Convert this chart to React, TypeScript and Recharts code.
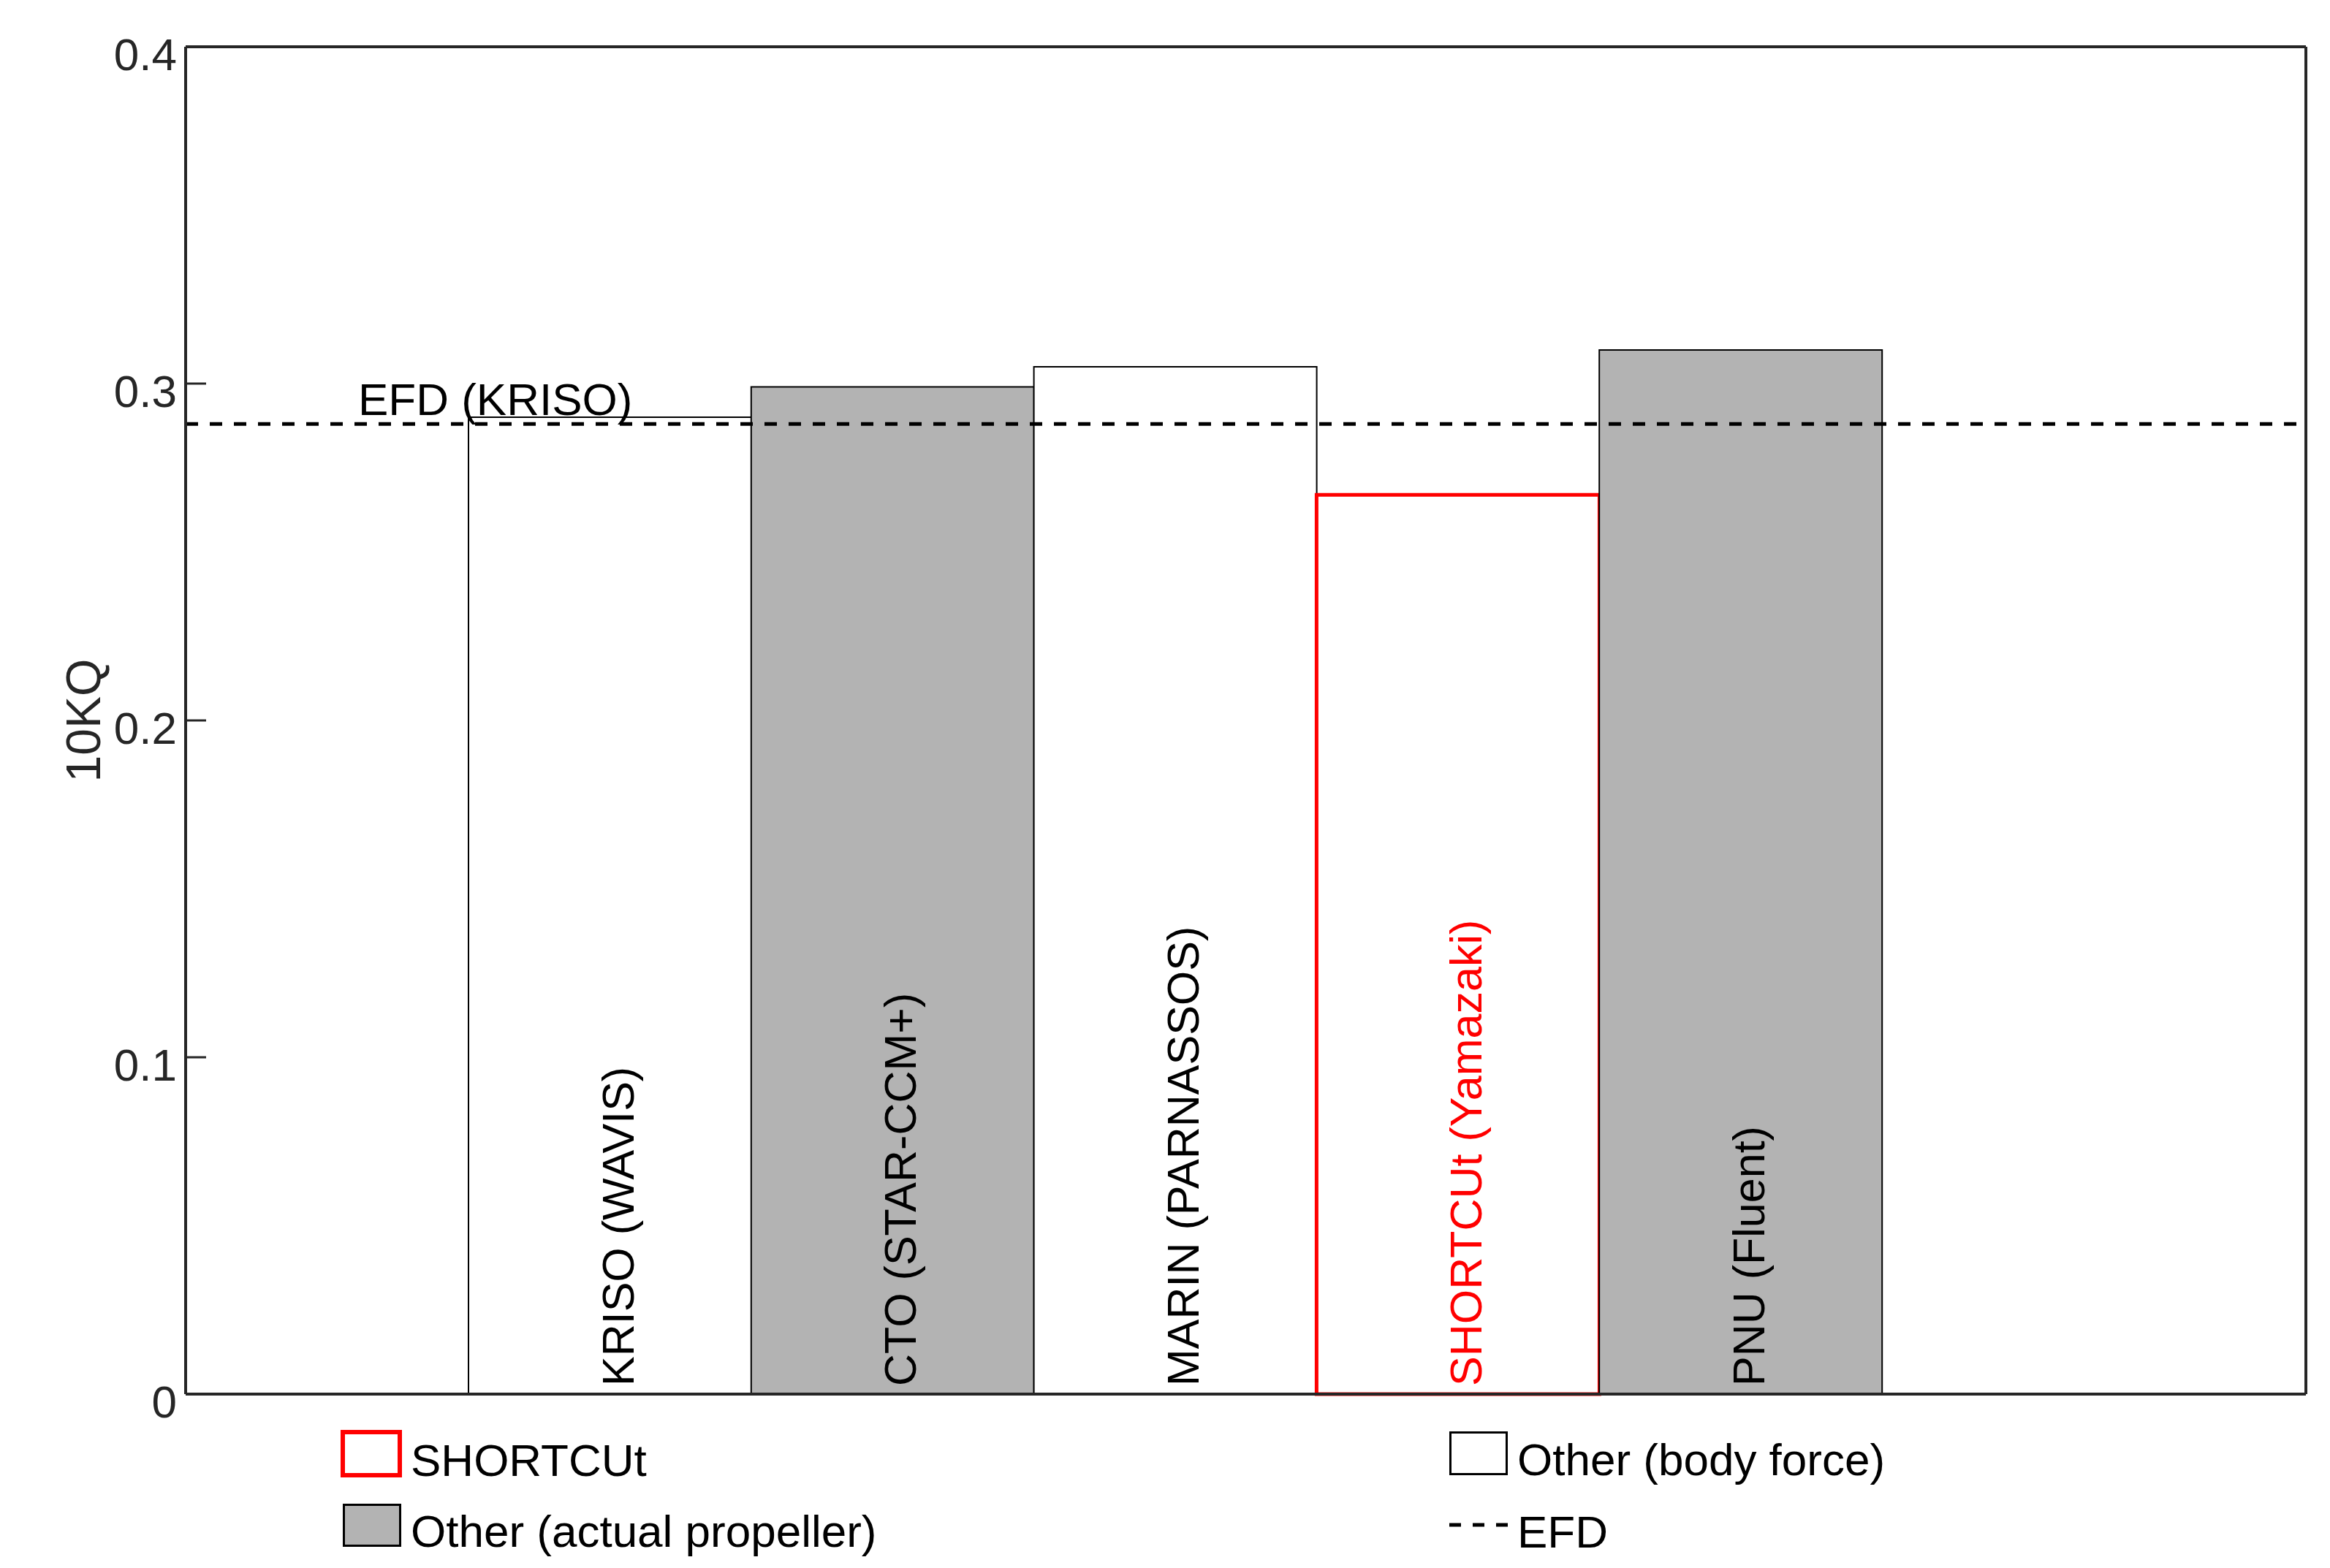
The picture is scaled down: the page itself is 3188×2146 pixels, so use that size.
import React from 'react';
import { Bar, Cell, ComposedChart, Label, LabelList, ReferenceLine, XAxis, YAxis } from 'recharts';

const methods = [
  'KRISO (WAVIS)',
  'CTO (STAR-CCM+)',
  'MARIN (PARNASSOS)',
  'SHORTCUt (Yamazaki)',
  'PNU (Fluent)',
];
const kq10 = [0.29, 0.299, 0.305, 0.267, 0.31];
const groups = ['body', 'actual', 'body', 'shortcut', 'actual'];
const efdValue = 0.288;
const efdLabel = 'EFD (KRISO)';
const yTicks = [0, 0.1, 0.2, 0.3, 0.4];
const innerTicks = [0.1, 0.2, 0.3];
const legendLeft = ['SHORTCUt', 'Other (actual propeller)'];
const legendRight = ['Other (body force)', 'EFD'];

const FONT = '"Liberation Sans", Arial, Helvetica, sans-serif';
const AXIS = '#262626';
const GRAY = '#b3b3b3';
const TICK_LEN = 28;

const groupStyle: Record<string, { fill: string; stroke: string; strokeWidth: number; text: string }> = {
  body: { fill: '#ffffff', stroke: '#000000', strokeWidth: 2, text: '#000000' },
  actual: { fill: GRAY, stroke: '#000000', strokeWidth: 2, text: '#000000' },
  shortcut: { fill: '#ffffff', stroke: '#ff0000', strokeWidth: 5, text: '#ff0000' },
};

const data = methods.map((name, i) => ({ name, value: kq10[i], group: groups[i] }));

// left tick: label outside, short tick line pointing into the plot
function YTick({ x, y, payload }: any) {
  const inner = innerTicks.includes(payload.value);
  return (
    <g>
      {inner && (
        <line x1={x + 12} x2={x + 12 + TICK_LEN} y1={y} y2={y} stroke={AXIS} strokeWidth={3} />
      )}
      <text x={x} y={y} dy={32} textAnchor="end" fill={AXIS} fontSize={62} fontFamily={FONT}>
        {payload.value}
      </text>
    </g>
  );
}

// right side: tick line only, pointing inwards
function RightTick({ x, y, payload }: any) {
  if (!innerTicks.includes(payload.value)) return <g />;
  return <line x1={x - TICK_LEN} x2={x} y1={y} y2={y} stroke={AXIS} strokeWidth={3} />;
}

function AxisTitle({ viewBox }: any) {
  const cx = viewBox.x + 33;
  const cy = viewBox.y + viewBox.height / 2;
  return (
    <text
      x={cx}
      y={cy}
      transform={`rotate(-90 ${cx} ${cy})`}
      textAnchor="middle"
      fill={AXIS}
      fontSize={66}
      fontFamily={FONT}
    >
      10KQ
    </text>
  );
}

function EfdText({ viewBox }: any) {
  return (
    <text x={viewBox.x + 236} y={viewBox.y - 12} fill="#000" fontSize={62} fontFamily={FONT}>
      {efdLabel}
    </text>
  );
}

function BarName(props: any) {
  const box = props.viewBox ?? props;
  const { index, value } = props;
  const bx = Number(box.x) + Number(box.width) / 2 + 32;
  const by = Number(box.y) + Number(box.height) - 11;
  const color = groupStyle[groups[index]]?.text ?? '#000';
  return (
    <text
      x={bx}
      y={by}
      transform={`rotate(-90 ${bx} ${by})`}
      textAnchor="start"
      fill={color}
      fontSize={61}
      fontFamily={FONT}
    >
      {value}
    </text>
  );
}

function LegendOverlay() {
  const t = { fontSize: 62, fontFamily: FONT, fill: '#000' };
  return (
    <svg
      width={3188}
      height={2146}
      style={{ position: 'absolute', left: 0, top: 0, pointerEvents: 'none' }}
    >
      <rect x={469} y={1960} width={78} height={59} fill="#fff" stroke="#ff0000" strokeWidth={6} />
      <text x={562} y={2020} {...t}>{legendLeft[0]}</text>
      <rect x={470.5} y={2059.5} width={77} height={56} fill={GRAY} stroke="#000" strokeWidth={3} />
      <text x={562} y={2117} {...t}>{legendLeft[1]}</text>
      <rect x={1984.5} y={1960.5} width={77} height={57} fill="#fff" stroke="#000" strokeWidth={3} />
      <text x={2076} y={2019} {...t}>{legendRight[0]}</text>
      <line x1={1983} x2={2063} y1={2087} y2={2087} stroke="#000" strokeWidth={5} strokeDasharray="16 16" />
      <text x={2076} y={2118} {...t}>{legendRight[1]}</text>
    </svg>
  );
}

export default function App() {
  return (
    <div style={{ position: 'absolute', left: 0, top: 0, width: 3188, height: 2146, background: '#fff' }}>
      <ComposedChart
        width={3188}
        height={2146}
        data={data}
        margin={{ top: 63, right: 32, bottom: 237, left: 104 }}
        barCategoryGap={0}
        barGap={0}
      >
        <XAxis
          dataKey="name"
          padding={{ left: 387, right: 580 }}
          height={1}
          tick={false}
          tickLine={false}
          axisLine={{ stroke: AXIS, strokeWidth: 4 }}
        />
        <XAxis
          xAxisId="top"
          orientation="top"
          dataKey="name"
          height={1}
          tick={false}
          tickLine={false}
          axisLine={{ stroke: AXIS, strokeWidth: 4 }}
        />
        <YAxis
          yAxisId="kq"
          domain={[0, 0.4]}
          ticks={yTicks}
          width={150}
          tickLine={false}
          tickSize={0}
          tickMargin={12}
          axisLine={{ stroke: AXIS, strokeWidth: 4 }}
          tick={<YTick />}
        >
          <Label content={<AxisTitle />} />
        </YAxis>
        <YAxis
          yAxisId="kqRight"
          orientation="right"
          domain={[0, 0.4]}
          ticks={yTicks}
          width={1}
          tickSize={0}
          tickMargin={0}
          tickLine={false}
          axisLine={{ stroke: AXIS, strokeWidth: 4 }}
          tick={<RightTick />}
        />
        <Bar yAxisId="kq" dataKey="value" isAnimationActive={false}>
          {data.map((d) => {
            const s = groupStyle[d.group];
            return <Cell key={d.name} fill={s.fill} stroke={s.stroke} strokeWidth={s.strokeWidth} />;
          })}
          <LabelList dataKey="name" content={<BarName />} />
        </Bar>
        <ReferenceLine
          yAxisId="kq"
          y={efdValue}
          stroke="#000"
          strokeWidth={5}
          strokeDasharray="17 16"
          label={<EfdText />}
        />
      </ComposedChart>
      <LegendOverlay />
    </div>
  );
}
